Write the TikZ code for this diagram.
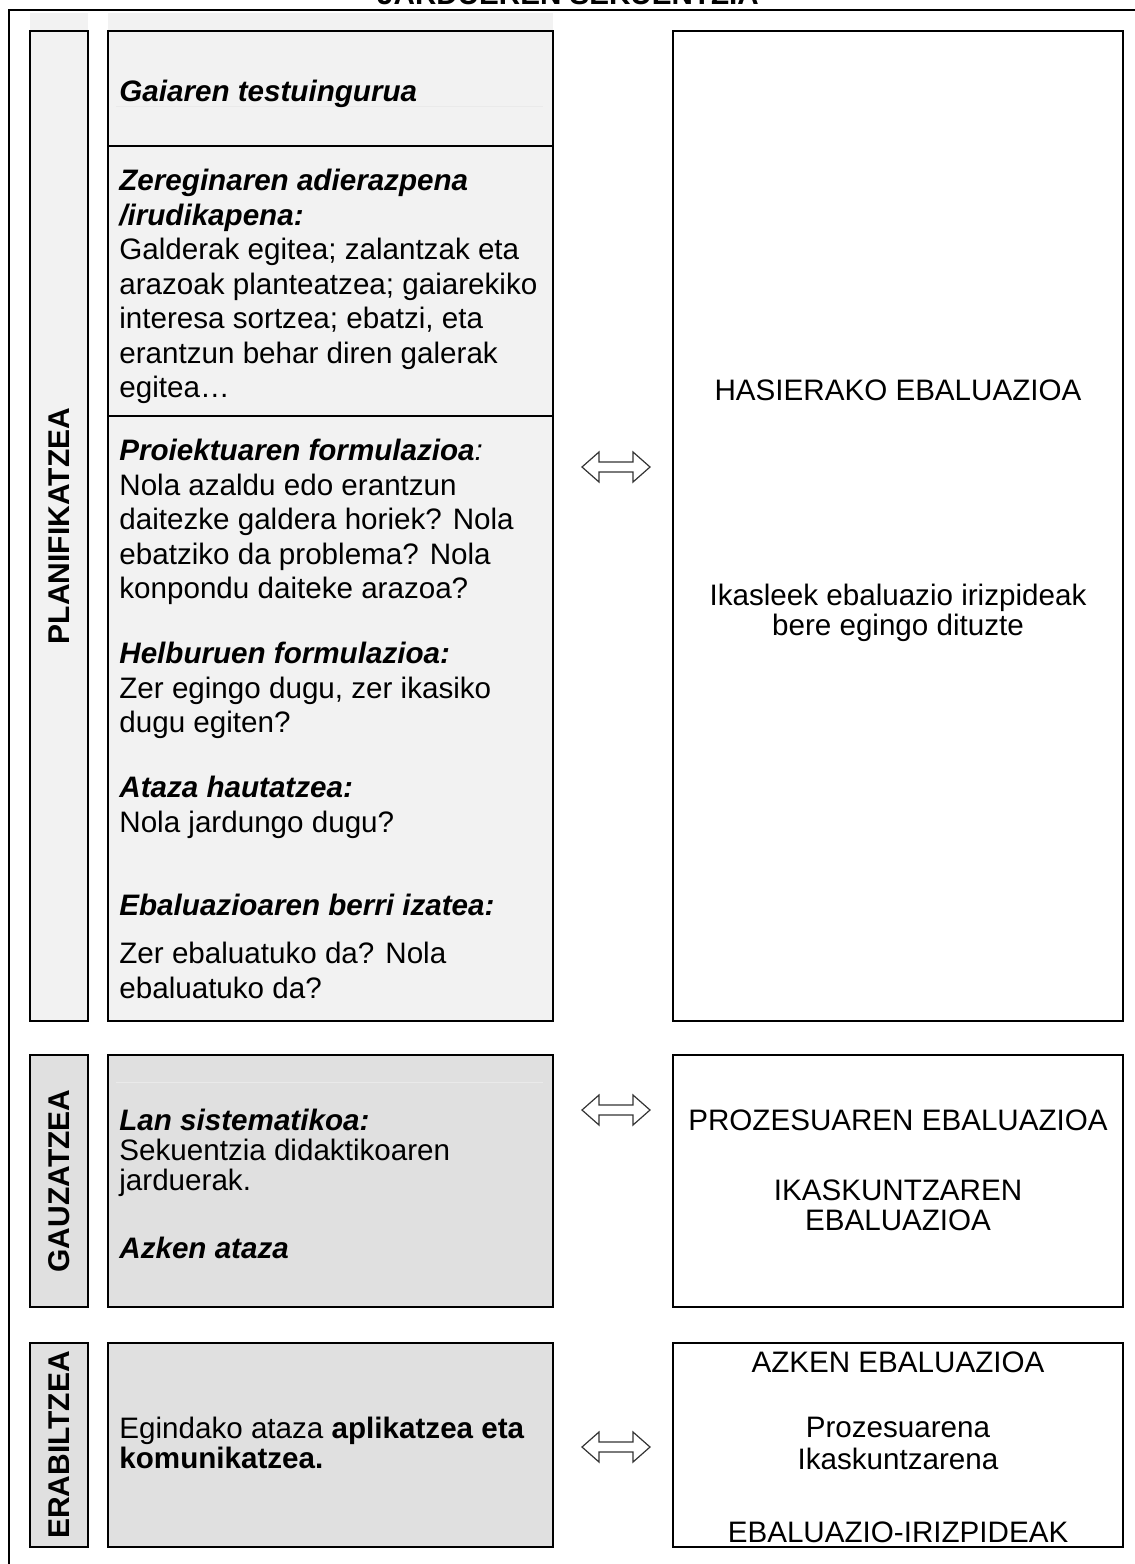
\documentclass[tikz,border=0pt]{standalone}
\usepackage{fontspec}
\setmainfont{Liberation Sans}
\usepackage{tikz}
\usetikzlibrary{calc}
\definecolor{planfill}{HTML}{F2F2F2}
\definecolor{workfill}{HTML}{E0E0E0}
\definecolor{faintrule}{HTML}{EAEAEA}
\tikzset{
    block/.style = {draw, rectangle, line width=1.2pt, inner sep=0pt},
    phase/.style = {block, minimum width=29pt},
    task/.style = {block, minimum width=222.5pt},
    evalbox/.style = {block, fill=white, minimum width=225pt},
    phaselabel/.style = {rotate=90, font=\fontsize{15}{17}\selectfont\bfseries},
    body/.style = {anchor=north west, inner sep=0pt, align=left,
        font=\fontsize{14.8}{17.25}\selectfont},
    bodytight/.style = {body, font=\fontsize{14.8}{15}\selectfont},
    evaltext/.style = {inner sep=0pt, align=center,
        font=\fontsize{14.8}{15}\selectfont},
    dblarrow/.pic = {
        \draw[black!80, line width=0.6pt, fill=white] (-34,0) -- (-17,-15) -- (-17,-5)
            -- (17,-5) -- (17,-15) -- (34,0) -- (17,15) -- (17,5) -- (-17,5) -- (-17,15) -- cycle;
    }
}
\newcommand{\hd}[1]{\textbf{\textit{#1}}}

\begin{document}
\begin{tikzpicture}[x=0.5pt, y=-0.5pt]
    \useasboundingbox (0,0) rectangle (1135,1564);
    \clip (0,0) rectangle (1135,1564);
    \node[font=\fontsize{14.8}{17}\selectfont\bfseries, anchor=base] (title) at (568,4) {JARDUEREN SEKUENTZIA};
    \draw[line width=1pt] (1140,10) -| (9,1570);
    \fill[planfill] (30,13) rectangle (88,31);
    \fill[planfill] (108,13) rectangle (553,31);

    \node[phase, fill=planfill, minimum height=495pt] (plan) at (59,526) {};
    \node[task, fill=planfill, minimum height=57.5pt] (context) at (330.5,88.5) {};
    \node[task, fill=planfill, minimum height=135pt] (statement) at (330.5,281) {};
    \node[task, fill=planfill, minimum height=302.5pt] (project) at (330.5,718.5) {};
    \node[evalbox, minimum height=495pt] (initial) at (898,526) {};
    \draw[faintrule, line width=0.5pt] (116,106) -- (543,106);

    \node[phase, fill=workfill, minimum height=126pt] (work) at (59,1181) {};
    \node[task, fill=workfill, minimum height=126pt] (system) at (330.5,1181) {};
    \node[evalbox, minimum height=126pt] (process) at (898,1181) {};
    \draw[faintrule, line width=0.5pt] (116,1082) -- (543,1082);

    \node[phase, fill=workfill, minimum height=102pt] (use) at (59,1445) {};
    \node[task, fill=workfill, minimum height=102pt] (apply) at (330.5,1445) {};
    \node[evalbox, minimum height=102pt] (final) at (898,1445) {};

    \node[phaselabel] (plan-l) at (plan) {PLANIFIKATZEA};
    \node[phaselabel] (work-l) at (work) {GAUZATZEA};
    \node[phaselabel] (use-l) at (use) {ERABILTZEA};

    \node[body] (context-t) at (119,80) {\hd{Gaiaren testuingurua}};
    \node[body] (statement-t) at (119,169) {\hd{Zereginaren adierazpena}\\\hd{/irudikapena:}\\Galderak egitea; zalantzak eta\\arazoak planteatzea; gaiarekiko\\interesa sortzea; ebatzi, eta\\erantzun behar diren galerak\\egitea…};
    \node[body] (project-t) at (119,439) {\hd{Proiektuaren formulazioa}\textit{:}\\Nola azaldu edo erantzun\\daitezke galdera horiek? Nola\\ebatziko da problema? Nola\\konpondu daiteke arazoa?};
    \node[body] (goals-t) at (119,642) {\hd{Helburuen formulazioa:}\\Zer egingo dugu, zer ikasiko\\dugu egiten?};
    \node[body] (choice-t) at (119,776) {\hd{Ataza hautatzea:}\\Nola jardungo dugu?};
    \node[body] (assess-t) at (119,894) {\hd{Ebaluazioaren berri izatea:}};
    \node[body] (assessq-t) at (119,942) {Zer ebaluatuko da? Nola\\ebaluatuko da?};
    \node[bodytight] (system-t) at (119,1109) {\hd{Lan sistematikoa:}\\Sekuentzia didaktikoaren\\jarduerak.};
    \node[body] (lasttask-t) at (119,1237) {\hd{Azken ataza}};
    \node[bodytight] (apply-t) at (119,1417) {Egindako ataza \textbf{aplikatzea eta}\\\textbf{komunikatzea.}};

    \node[evaltext, anchor=base] (initial-t) at (898,400) {HASIERAKO EBALUAZIOA};
    \node[evaltext, anchor=north] (criteria-t) at (898,584) {Ikasleek ebaluazio irizpideak\\bere egingo dituzte};
    \node[evaltext, anchor=base] (process-t) at (898,1130) {PROZESUAREN EBALUAZIOA};
    \node[evaltext, anchor=north] (learning-t) at (898,1179) {IKASKUNTZAREN\\EBALUAZIOA};
    \node[evaltext, anchor=base] (final-t) at (898,1372) {AZKEN EBALUAZIOA};
    \node[evaltext, anchor=north, font=\fontsize{14.8}{16}\selectfont] (kinds-t) at (898,1417) {Prozesuarena\\Ikaskuntzarena};
    \node[evaltext, anchor=base] (crit-t) at (898,1542) {EBALUAZIO-IRIZPIDEAK};

    \pic at (616,467) {dblarrow};
    \pic at (616,1110) {dblarrow};
    \pic at (616,1447) {dblarrow};
\end{tikzpicture}
\end{document}
